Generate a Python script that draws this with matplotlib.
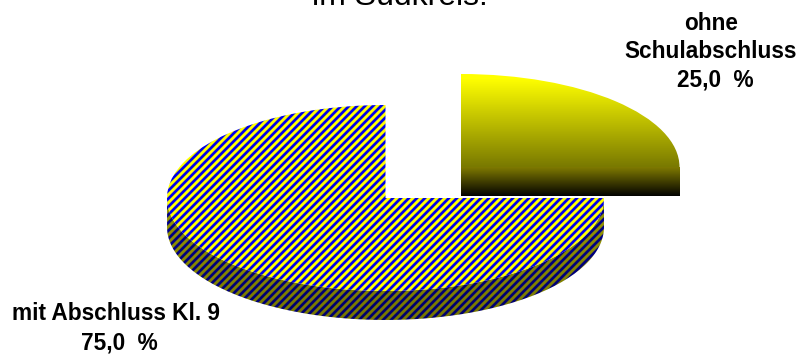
import matplotlib
matplotlib.use("Agg")
import matplotlib.pyplot as plt
import numpy as np
from matplotlib.patches import Wedge, PathPatch
from matplotlib.path import Path
from matplotlib.transforms import Affine2D

categorias = ["ohne", "Schulabschluss", "mit Abschluss Kl. 9"]
anteile = [25.0, 75.0]
titulo = "im Südkreis."

plt.rcParams["font.family"] = ["Liberation Sans", "DejaVu Sans"]

RX, RY, PROF = 218.5, 93, 29
LARG, ALT = 802, 354


def listras(brilho):
    # textura diagonal azul/amarela, brilho por linha
    yy, xx = np.mgrid[0:ALT, 0:LARG]
    fase = np.sin((xx + yy) * 2 * np.pi / 8.0)
    mistura = np.clip(fase * 1.2 + 0.55, 0, 1)[..., None]
    amarelo = np.array([1.0, 1.0, 0.0])
    azul = np.array([0.0, 0.0, 0.92])
    img = mistura * amarelo + (1 - mistura) * azul
    return img * brilho[:, :, None]


def degrade(y0, y1, c0, c1):
    t = np.clip((np.arange(ALT) - y0) / (y1 - y0), 0, 1)[:, None, None]
    img = (1 - t) * np.array(c0) + t * np.array(c1)
    return np.repeat(img, LARG, axis=1)


def pintar(ax, img, patch, z):
    ax.add_patch(patch)
    patch.set_facecolor("none")
    patch.set_edgecolor("none")
    im = ax.imshow(img, extent=(0, LARG, ALT, 0), zorder=z, interpolation="nearest", aspect="auto")
    im.set_clip_path(patch)


def lateral(cx, cy, a0, a1):
    # parede curva da fatia, do arco de cima ao arco de baixo
    t = np.radians(np.linspace(a0, a1, 120))
    x = cx + RX * np.cos(t)
    y = cy + RY * np.sin(t)
    pts = np.r_[np.c_[x, y], np.c_[x[::-1], y[::-1] + PROF], [[x[0], y[0]]]]
    return Path(pts)


fig = plt.figure(figsize=(LARG / 100, ALT / 100), dpi=100)
ax = fig.add_axes([0, 0, 1, 1])
ax.set_xlim(0, LARG)
ax.set_ylim(ALT, 0)
ax.axis("off")

ang_amarelo = anteile[0] / sum(anteile) * 360

# fatia azul/amarela
cx, cy = 385.5, 198
brilho = np.ones((ALT, LARG))
linhas = np.clip((np.arange(ALT) - 198) / (320 - 198), 0, 1)
sombra = np.repeat((0.6 - 0.14 * linhas)[:, None], LARG, axis=1)
pintar(ax, listras(sombra), PathPatch(lateral(cx, cy, 0, 180), transform=ax.transData), 1)
topo = Wedge((0, 0), 1, 0, 360 - ang_amarelo)
topo.set_transform(Affine2D().scale(RX, RY).translate(cx, cy) + ax.transData)
pintar(ax, listras(brilho), topo, 2)

# fatia amarela destacada
cx2, cy2 = 461, 167
parede = PathPatch(Path([(cx2, cy2), (cx2 + RX, cy2), (cx2 + RX, cy2 + PROF), (cx2, cy2 + PROF), (cx2, cy2)]),
                   transform=ax.transData)
pintar(ax, degrade(cy2, cy2 + PROF, (0.49, 0.47, 0.0), (0.0, 0.0, 0.0)), parede, 3)
fatia = Wedge((0, 0), 1, 360 - ang_amarelo, 360)
fatia.set_transform(Affine2D().scale(RX, RY).translate(cx2, cy2) + ax.transData)
pintar(ax, degrade(cy2 - RY + 4, cy2, (1.0, 1.0, 0.0), (0.47, 0.47, 0.0)), fatia, 4)

ax.text(400, 5, titulo, fontsize=23, ha="center", va="baseline", color="black")
rotulo = dict(fontsize=16.3, fontweight="bold", ha="center", va="center")
ax.text(711, 24, categorias[0], **rotulo)
ax.text(711, 52, categorias[1], **rotulo)
ax.text(715, 80, f"{anteile[0]:.1f}  %".replace(".", ","), **rotulo)
ax.text(116, 314, categorias[2], **rotulo)
ax.text(119, 343, f"{anteile[1]:.1f}  %".replace(".", ","), **rotulo)

fig.savefig("out.png", dpi=100)
